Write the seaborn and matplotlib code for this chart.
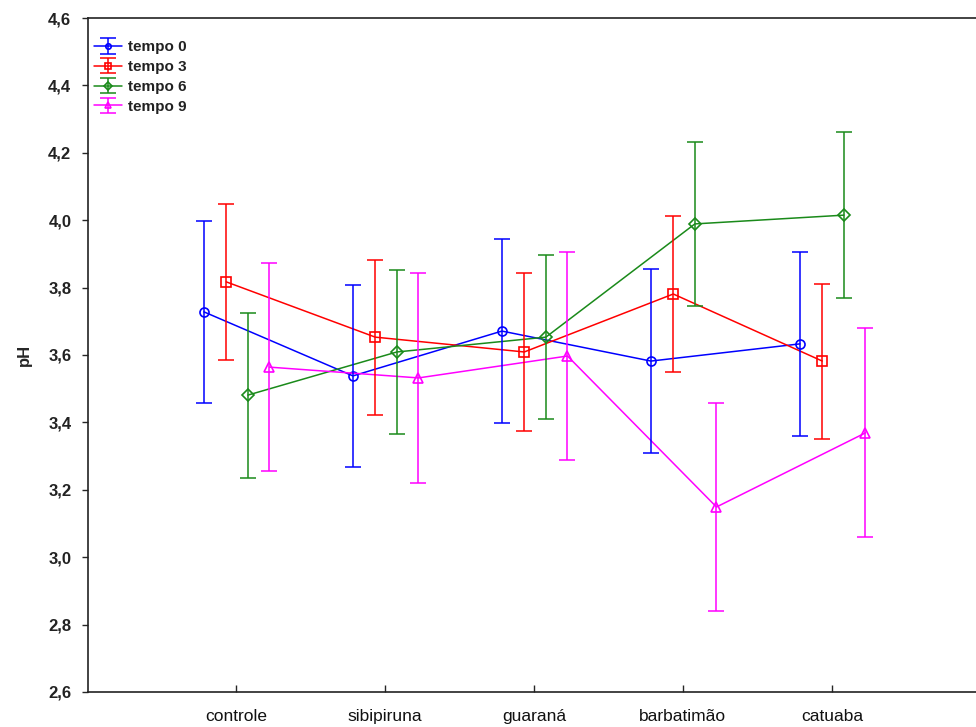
import matplotlib
matplotlib.use("Agg")
import matplotlib.pyplot as plt
import numpy as np
import pandas as pd
import seaborn as sns
from matplotlib.legend_handler import HandlerTuple
from matplotlib.ticker import FuncFormatter

# pH means and error half-widths
CATEGORIES = ["controle", "sibipiruna", "guaraná", "barbatimão", "catuaba"]
SERIES = ["tempo 0", "tempo 3", "tempo 6", "tempo 9"]

tempo0_mean = [3.728, 3.538, 3.671, 3.582, 3.633]
tempo0_err = [0.271, 0.270, 0.272, 0.273, 0.272]
tempo3_mean = [3.817, 3.653, 3.609, 3.781, 3.582]
tempo3_err = [0.232, 0.230, 0.234, 0.231, 0.230]
tempo6_mean = [3.481, 3.609, 3.653, 3.989, 4.015]
tempo6_err = [0.245, 0.243, 0.243, 0.243, 0.246]
tempo9_mean = [3.564, 3.532, 3.597, 3.149, 3.369]
tempo9_err = [0.309, 0.311, 0.310, 0.308, 0.310]

MEANS = [tempo0_mean, tempo3_mean, tempo6_mean, tempo9_mean]
ERRS = [tempo0_err, tempo3_err, tempo6_err, tempo9_err]
COLORS = ["#0000ff", "#ff0000", "#1a8a1a", "#ff00ff"]
MARKERS = ["o", "s", "D", "^"]
OFFSETS = [-0.215, -0.065, 0.08, 0.225]

sns.set_style("ticks")
plt.rcParams["font.family"] = ["Liberation Sans", "DejaVu Sans"]

rows = []
for s, name in enumerate(SERIES):
    for i, cat in enumerate(CATEGORIES):
        rows.append({"tempo": name, "pos": i + OFFSETS[s], "ph": MEANS[s][i]})
df = pd.DataFrame(rows)

fig = plt.figure(figsize=(9.76, 7.27), dpi=100)
ax = fig.add_axes([88 / 976, 35 / 727, 894 / 976, 674 / 727])

sns.lineplot(
    data=df, x="pos", y="ph", hue="tempo", style="tempo",
    palette=dict(zip(SERIES, COLORS)), markers=dict(zip(SERIES, MARKERS)),
    dashes=False, estimator=None, sort=False, legend=False, ax=ax,
    linewidth=1.1, markersize=6.5, markerfacecolor="none",
    markeredgewidth=1.2,
)
# seaborn applies marker facecolor globally; set edge colours per series
lines = ax.get_lines()[: len(SERIES)]
for line, c in zip(lines, COLORS):
    line.set_markeredgecolor(c)
    line.set_markerfacecolor("none")

containers = []
for s in range(len(SERIES)):
    x = np.arange(len(CATEGORIES)) + OFFSETS[s]
    eb = ax.errorbar(x, MEANS[s], yerr=ERRS[s], fmt="none", ecolor=COLORS[s],
                     elinewidth=1.1, capsize=6, capthick=1.1)
    containers.append(eb)

ax.set_xlim(-0.993, 5.007)
ax.set_ylim(2.6, 4.6)
ax.set_xticks(range(len(CATEGORIES)))
ax.set_xticklabels(CATEGORIES, fontsize=12.5, color="#111111")
ax.set_yticks(np.arange(2.6, 4.61, 0.2))
ax.yaxis.set_major_formatter(FuncFormatter(lambda v, p: f"{v:.1f}".replace(".", ",")))
for t in ax.get_yticklabels():
    t.set_fontsize(12)
    t.set_fontweight("bold")
    t.set_color("#222222")
ax.tick_params(axis="x", direction="in", length=5, pad=12, width=1)
ax.tick_params(axis="y", direction="out", length=4, pad=8, width=1)
ax.set_xlabel("")
ax.set_ylabel("pH", fontsize=12, fontweight="bold", labelpad=12)
for sp in ax.spines.values():
    sp.set_visible(True)
    sp.set_linewidth(1.2)
    sp.set_color("#222222")

handles = [(l, c) for l, c in zip(lines, containers)]
leg = ax.legend(handles, SERIES, handler_map={tuple: HandlerTuple(ndivide=1)},
                loc="upper left", bbox_to_anchor=(0.0, 0.976), frameon=False,
                fontsize=11, handlelength=1.8, handletextpad=0.4,
                labelspacing=0.38, borderaxespad=0.0, markerscale=0.6)
for t in leg.get_texts():
    t.set_fontweight("bold")
    t.set_color("#222222")

fig.savefig("out.png", dpi=100)
